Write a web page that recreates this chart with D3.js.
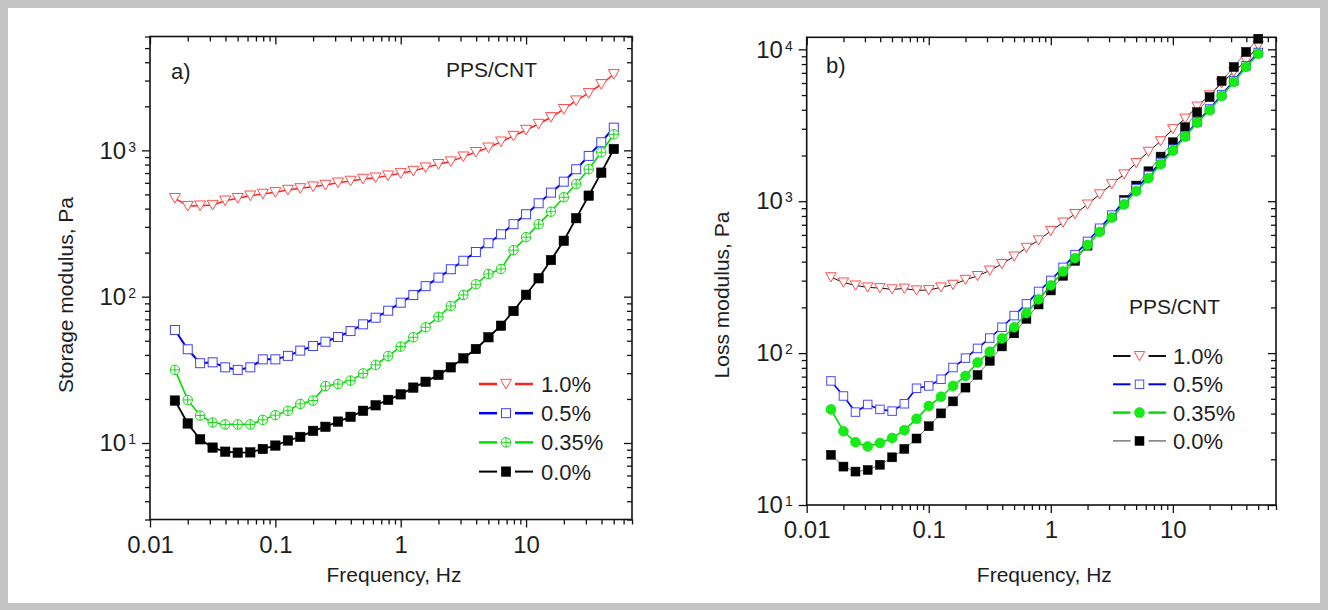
<!DOCTYPE html>
<html>
<head>
<meta charset="utf-8">
<script src="https://cdn.jsdelivr.net/npm/d3@7"></script>
<style>
  body { margin: 0; background: #fff; }
  svg { display: block; font-family: Arial, "Liberation Sans", sans-serif; }
</style>
</head>
<body>
<svg id="chart"></svg>
<script>
// frequencies (Hz), shared by both panels
const freq = [0.0158, 0.02, 0.0251, 0.0316, 0.0398, 0.0501, 0.0631, 0.0794, 0.1, 0.126, 0.158, 0.2,
  0.251, 0.316, 0.398, 0.501, 0.631, 0.794, 1, 1.26, 1.58, 2, 2.51, 3.16, 3.98, 5.01, 6.31, 7.94,
  10, 12.6, 15.8, 20, 25.1, 31.6, 39.8, 50.1];

const seriesNames = ["1.0%", "0.5%", "0.35%", "0.0%"];

// a) storage modulus, Pa
const storage10 = [471, 416, 419, 423, 453, 471, 490, 504, 517, 536, 550, 565, 580, 601, 618, 638, 651, 672,
  697, 723, 762, 804, 838, 906, 971, 1043, 1146, 1254, 1378, 1514, 1683, 1911, 2188, 2457, 2831, 3312];
const storage05 = [59.2, 43.7, 35.1, 35.6, 32.9, 31.6, 32.9, 37.3, 37.3, 39.4, 42.8, 46.0, 49.2, 53.0, 58.2, 64.7,
  71.8, 80.2, 91.0, 102.6, 118, 135, 154, 176, 202, 232, 267, 313, 366, 435, 514, 611, 743, 916, 1136, 1430];
const storage035 = [31.6, 19.7, 15.4, 13.8, 13.4, 13.4, 13.4, 14.4, 15.5, 16.6, 18.5, 19.5, 24.5, 25.3, 26.7, 29.9,
  34.2, 39.3, 45.6, 52.8, 61.8, 72.9, 86.4, 102.8, 121.6, 142.9, 154.6, 208, 255, 313, 381, 478, 589, 743, 971, 1289];
const storage00 = [19.5, 13.6, 10.6, 9.3, 8.72, 8.59, 8.63, 9.1, 9.6, 10.4, 11.0, 12.1, 12.9, 14.0, 15.1, 16.6,
  18.1, 19.7, 21.5, 23.9, 26.2, 29.2, 32.9, 37.9, 43.9, 52.8, 63.3, 79.8, 103, 133.6, 178, 241, 344, 490, 704, 1022];

// b) loss modulus, Pa
const loss10 = [316, 292, 279, 271, 268, 263, 266, 259, 260, 271, 282, 304, 322, 350, 386, 433, 494, 553,
  638, 724, 825, 952, 1111, 1296, 1503, 1784, 2118, 2485, 2982, 3499, 4202, 4984, 5985, 7105, 8431, 10590];
const loss05 = [65.6, 52.2, 40.9, 45.9, 42.6, 41.5, 46.4, 58.7, 60.8, 67.3, 80.4, 92.7, 107.4, 125.6, 148, 176.6,
  211, 254.7, 301, 367, 445, 544, 664, 811, 990, 1210, 1479, 1800, 2200, 2700, 3330, 4050, 5030, 6200, 7800, 9530];
const loss035 = [42.6, 30.6, 25.9, 24.3, 25.6, 27.6, 31.1, 36.9, 44.8, 51.6, 60.8, 70.8, 86.7, 102, 125, 148,
  183, 225.5, 279, 344, 421, 514, 628, 780, 953, 1163, 1419, 1754, 2154, 2661, 3289, 3968, 4932, 6090, 7651, 9344];
const loss00 = [21.4, 17.9, 16.6, 17.0, 18.4, 20.6, 23.4, 27.4, 33.0, 40.1, 48.1, 59.3, 71.8, 88.9, 110.7, 135,
  168, 209, 258.6, 323, 405, 510, 646, 802, 1020, 1267, 1574, 1966, 2444, 3070, 3855, 4847, 6194, 7651, 9617, 11742];

// axes
const xDomain = [0.01, 70];
const xTickValues = [0.01, 0.1, 1, 10];
const xTickLabels = ["0.01", "0.1", "1", "10"];
const storageDomain = [3, 6000];
const storageTicks = [10, 100, 1000];
const lossDomain = [10, 12000];
const lossTicks = [10, 100, 1000, 10000];

const W = 1328, H = 610;
const TEXT = "#1e1e1e";

const svg = d3.select("#chart").attr("width", W).attr("height", H);
svg.append("rect").attr("width", W).attr("height", H).attr("fill", "#c4c4c4");
svg.append("rect").attr("x", 8).attr("y", 8).attr("width", W - 16).attr("height", H - 15).attr("fill", "#fff");

const drawMarker = (sel, m) => {
  const r = m.size / 2;
  let shape;
  if (m.shape === "triangle") {
    shape = sel.append("path").attr("d", `M${-r},${-r * 0.85}L${r},${-r * 0.85}L0,${r * 0.9}Z`);
  } else if (m.shape === "square") {
    shape = sel.append("rect").attr("x", -r).attr("y", -r).attr("width", 2 * r).attr("height", 2 * r);
  } else {
    shape = sel.append("circle").attr("r", r);
  }
  shape.attr("fill", m.fill).attr("stroke", m.stroke).attr("stroke-width", m.sw);
  if (m.shape === "crossCircle") {
    sel.append("path").attr("d", `M${-r},0H${r}M0,${-r}V${r}`)
      .attr("stroke", m.stroke).attr("stroke-width", m.sw);
  }
};

const supLabel = (sel, size) => {
  sel.each(function (d) {
    const t = d3.select(this);
    t.text("");
    t.append("tspan").text("10");
    t.append("tspan").attr("dx", 2).attr("dy", -7).attr("font-size", size).text(Math.round(Math.log10(d)));
  });
};

const drawPanel = (p) => {
  const x = d3.scaleLog().domain(xDomain).range([p.left, p.right]);
  const y = d3.scaleLog().domain(p.yDomain).range([p.bottom, p.top]);
  const g = svg.append("g");

  // data
  p.order.forEach(k => {
    const s = p.series[k];
    const pts = freq.map((f, i) => [f, s.values[i]]);
    g.append("path").datum(pts)
      .attr("d", d3.line().x(d => x(d[0])).y(d => y(d[1])))
      .attr("fill", "none").attr("stroke", s.line).attr("stroke-width", s.lw);
    g.append("g").selectAll("g").data(pts).enter().append("g")
      .attr("transform", d => `translate(${x(d[0])},${y(d[1])})`)
      .each(function () { drawMarker(d3.select(this), s.marker); });
  });

  // axes
  const xMinor = x.ticks().filter(v => !xTickValues.some(t => Math.abs(t - v) < 1e-9));
  const yMinor = y.ticks().filter(v => !p.yTicks.some(t => Math.abs(t - v) < 1e-9));
  const axes = [
    [d3.axisBottom(x).tickValues(xTickValues).tickFormat((d, i) => xTickLabels[i]).tickSize(8).tickPadding(8), `translate(0,${p.bottom})`],
    [d3.axisBottom(x).tickValues(xMinor).tickFormat("").tickSize(5), `translate(0,${p.bottom})`],
    [d3.axisTop(x).tickValues(xTickValues).tickFormat("").tickSize(-8), `translate(0,${p.top})`],
    [d3.axisTop(x).tickValues(xMinor).tickFormat("").tickSize(-5), `translate(0,${p.top})`],
    [d3.axisLeft(y).tickValues(p.yTicks).tickSize(8).tickPadding(6), `translate(${p.left},0)`],
    [d3.axisLeft(y).tickValues(yMinor).tickFormat("").tickSize(5), `translate(${p.left},0)`],
    [d3.axisRight(y).tickValues(p.yTicks).tickFormat("").tickSize(-8), `translate(${p.right},0)`],
    [d3.axisRight(y).tickValues(yMinor).tickFormat("").tickSize(-5), `translate(${p.right},0)`]
  ];
  axes.forEach(([ax, tr], i) => {
    const a = svg.append("g").attr("transform", tr).call(ax);
    a.select(".domain").remove();
    a.selectAll("line").attr("stroke", "#111").attr("stroke-width", 1.3);
    a.selectAll("text").attr("font-size", 24).attr("font-family", "Arial, Liberation Sans, sans-serif").attr("fill", TEXT);
    if (i === 4) supLabel(a.selectAll("text"), 14);
  });

  svg.append("rect").attr("x", p.left).attr("y", p.top)
    .attr("width", p.right - p.left).attr("height", p.bottom - p.top)
    .attr("fill", "none").attr("stroke", "#111").attr("stroke-width", 1.6);

  // titles
  svg.append("text").attr("x", (p.left + p.right) / 2 + 3).attr("y", 582)
    .attr("text-anchor", "middle").attr("font-size", 21).attr("fill", TEXT).text("Frequency, Hz");
  svg.append("text").attr("transform", `translate(${p.yTitleX},295) rotate(-90)`)
    .attr("text-anchor", "middle").attr("font-size", 21).attr("fill", TEXT).text(p.yTitle);
  svg.append("text").attr("x", p.tag[0]).attr("y", p.tag[1]).attr("font-size", 22).attr("fill", TEXT).text(p.tag[2]);
  svg.append("text").attr("x", p.head[0]).attr("y", p.head[1]).attr("font-size", 21).attr("fill", TEXT).text("PPS/CNT");

  // legend
  const L = p.legend;
  p.series.forEach((s, i) => {
    const ly = L.y0 + i * L.dy;
    const lg = svg.append("g");
    [[L.x0, L.mx - 9], [L.mx + 9, L.x1]].forEach(([a, b]) => {
      lg.append("line").attr("x1", a).attr("x2", b).attr("y1", ly).attr("y2", ly)
        .attr("stroke", s.legendLine).attr("stroke-width", s.legendLw);
    });
    const mg = lg.append("g").attr("transform", `translate(${L.mx},${ly})`);
    drawMarker(mg, s.marker);
    lg.append("text").attr("x", L.tx).attr("y", ly).attr("dy", "0.36em")
      .attr("font-size", 22).attr("fill", TEXT).text(seriesNames[i]);
  });
};

drawPanel({
  left: 150, right: 632, top: 36.5, bottom: 519.5,
  yDomain: storageDomain, yTicks: storageTicks,
  yTitle: "Storage modulus, Pa", yTitleX: 73,
  tag: [171, 79, "a)"], head: [446, 77],
  legend: { x0: 479, x1: 533, mx: 506, tx: 541, y0: 384, dy: 29.2 },
  order: [0, 1, 2, 3],
  series: [
    { values: storage10, line: "#ff2020", lw: 1.5, legendLine: "#ff2020", legendLw: 2.5,
      marker: { shape: "triangle", size: 11, fill: "#fff", stroke: "#ff4d4d", sw: 1 } },
    { values: storage05, line: "#0000ee", lw: 2, legendLine: "#0000ee", legendLw: 2.5,
      marker: { shape: "square", size: 9, fill: "#fff", stroke: "#4040ff", sw: 1 } },
    { values: storage035, line: "#00dd00", lw: 1.6, legendLine: "#00dd00", legendLw: 2.5,
      marker: { shape: "crossCircle", size: 9.5, fill: "#fff", stroke: "#18d818", sw: 1 } },
    { values: storage00, line: "#000", lw: 1.8, legendLine: "#000", legendLw: 2,
      marker: { shape: "square", size: 9.5, fill: "#000", stroke: "#000", sw: 0.5 } }
  ]
});

drawPanel({
  left: 806.7, right: 1276, top: 37.3, bottom: 505,
  yDomain: lossDomain, yTicks: lossTicks,
  yTitle: "Loss modulus, Pa", yTitleX: 729,
  tag: [826, 73, "b)"], head: [1129, 314],
  legend: { x0: 1113, x1: 1166, mx: 1139.5, tx: 1173, y0: 356, dy: 28.3 },
  order: [0, 3, 1, 2],
  series: [
    { values: loss10, line: "#111", lw: 1, legendLine: "#111", legendLw: 2,
      marker: { shape: "triangle", size: 10.5, fill: "#fff", stroke: "#ff4d4d", sw: 1 } },
    { values: loss05, line: "#0000ee", lw: 1.6, legendLine: "#0000ee", legendLw: 2,
      marker: { shape: "square", size: 8.5, fill: "#fff", stroke: "#4848ff", sw: 1 } },
    { values: loss035, line: "#00dd00", lw: 1.6, legendLine: "#00dd00", legendLw: 2.5,
      marker: { shape: "circle", size: 10, fill: "#16ec16", stroke: "#10d010", sw: 0.5 } },
    { values: loss00, line: "#666", lw: 0.9, legendLine: "#777", legendLw: 1.5,
      marker: { shape: "square", size: 9, fill: "#000", stroke: "#000", sw: 0.5 } }
  ]
});
</script>
</body>
</html>
